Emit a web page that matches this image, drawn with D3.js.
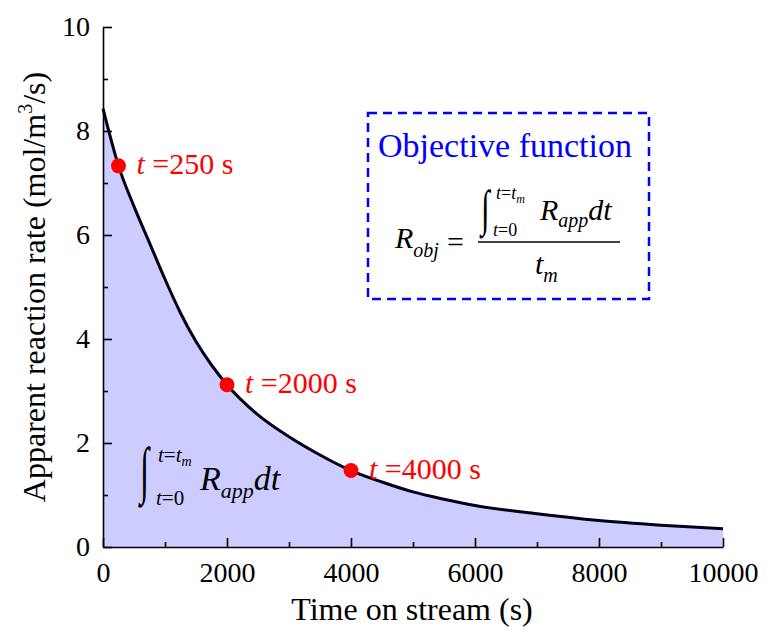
<!DOCTYPE html>
<html>
<head>
<meta charset="utf-8">
<script src="https://cdn.jsdelivr.net/npm/d3@7"></script>
</head>
<body style="margin:0;background:#fff">
<div id="chart"></div>
<script>
// apparent reaction rate vs time on stream
var times = [0, 250, 500, 750, 1000, 1250, 1500, 1750, 2000, 2500, 3000, 3500, 4000, 4500, 5000, 5500, 6000, 7000, 8000, 9000, 10000]
var rates = [8.43, 7.33, 6.55, 5.85, 5.15, 4.50, 3.95, 3.50, 3.12, 2.54, 2.12, 1.77, 1.47, 1.25, 1.06, 0.92, 0.80, 0.64, 0.51, 0.42, 0.35]

// highlighted points
var markTimes = [250, 2000, 4000]
var markRates = [7.33, 3.12, 1.47]
var markLabels = ['=250 s', '=2000 s', '=4000 s']

var xTicks = [0, 2000, 4000, 6000, 8000, 10000]
var xMinor = [1000, 3000, 5000, 7000, 9000]
var yTicks = [0, 2, 4, 6, 8, 10]
var yMinor = [1, 3, 5, 7, 9]

var chart_width = 768
var chart_height = 634
var font = '"Liberation Serif", "Times New Roman", serif'

var svg = d3.select('#chart')
    .append('svg')
    .attr('width', chart_width)
    .attr('height', chart_height)

var x = d3.scaleLinear().domain([0, 10000]).range([103, 723])
var y = d3.scaleLinear().domain([0, 10]).range([547, 27])

var data = times.map(function(t, i){ return [t, rates[i]] })

// shaded area under the curve
var area = d3.area()
    .x(function(d){ return x(d[0]) })
    .y0(y(0))
    .y1(function(d){ return y(d[1]) })
    .curve(d3.curveMonotoneX)

svg.append('path')
    .datum(data)
    .attr('d', area)
    .style('fill', '#ccccff')

// axes, ticks pointing inward
svg.append('g')
    .attr('transform', 'translate(0,' + y(0) + ')')
    .call(d3.axisBottom(x).tickValues(xTicks).tickFormat(d3.format('d'))
        .tickSize(-9).tickSizeOuter(0).tickPadding(15))
svg.append('g')
    .attr('transform', 'translate(0,' + y(0) + ')')
    .call(d3.axisBottom(x).tickValues(xMinor).tickSize(-5).tickFormat(''))
    .select('.domain').remove()

svg.append('g')
    .attr('transform', 'translate(' + x(0) + ',0)')
    .call(d3.axisLeft(y).tickValues(yTicks).tickFormat(d3.format('d'))
        .tickSize(-9).tickSizeOuter(0).tickPadding(13))
svg.append('g')
    .attr('transform', 'translate(' + x(0) + ',0)')
    .call(d3.axisLeft(y).tickValues(yMinor).tickSize(-5).tickFormat(''))
    .select('.domain').remove()

svg.selectAll('.domain').attr('stroke', '#000').attr('stroke-width', 1.6)
svg.selectAll('.tick line').attr('stroke', '#000').attr('stroke-width', 1.6)
svg.selectAll('.tick text')
    .attr('font-size', 28)
    .attr('fill', '#000')

// axis titles
svg.append('text')
    .attr('x', 412)
    .attr('y', 620)
    .attr('text-anchor', 'middle')
    .attr('font-size', 32)
    .text('Time on stream (s)')

var yTitle = svg.append('text')
    .attr('transform', 'translate(45,287) rotate(-90)')
    .attr('text-anchor', 'middle')
    .attr('font-size', 32)
yTitle.append('tspan').text('Apparent reaction rate (mol/m')
yTitle.append('tspan').attr('font-size', 20).attr('dy', -13).text('3')
yTitle.append('tspan').attr('dy', 13).text('/s)')

// rate curve
var line = d3.line()
    .x(function(d){ return x(d[0]) })
    .y(function(d){ return y(d[1]) })
    .curve(d3.curveMonotoneX)

svg.append('path')
    .datum(data)
    .attr('d', line)
    .style('fill', 'none')
    .style('stroke', '#000018')
    .style('stroke-width', 3)

// red points and their labels
svg.selectAll('circle.mark')
    .data(markTimes)
    .enter()
    .append('circle')
    .attr('class', 'mark')
    .attr('cx', function(d){ return x(d) })
    .attr('cy', function(d, i){ return y(markRates[i]) })
    .attr('r', 7.5)
    .style('fill', '#ff0000')

var labels = svg.selectAll('text.mark')
    .data(markTimes)
    .enter()
    .append('text')
    .attr('class', 'mark')
    .attr('x', function(d){ return x(d) + 18 })
    .attr('y', function(d, i){ return y(markRates[i]) + 8 })
    .attr('font-size', 30)
    .attr('fill', '#ff0000')
labels.append('tspan').attr('font-style', 'italic').text('t ')
labels.append('tspan').text(function(d, i){ return markLabels[i] })

// integral sign stretched vertically
function integral(g, px, base, size, sy){
    g.append('text')
        .attr('transform', 'translate(' + px + ',' + base + ') scale(1,' + sy + ')')
        .attr('font-size', size)
        .attr('font-style', 'normal')
        .text('\u222B')
}

// integral inside the shaded area
var g1 = svg.append('g').attr('font-style', 'italic')
integral(g1, 140, 491, 33, 1.9)
var up1 = g1.append('text').attr('x', 158).attr('y', 462).attr('font-size', 21)
up1.append('tspan').text('t')
up1.append('tspan').attr('font-style', 'normal').text('=')
up1.append('tspan').text('t')
up1.append('tspan').attr('font-size', 14).attr('dy', 4).text('m')
var lo1 = g1.append('text').attr('x', 156).attr('y', 505).attr('font-size', 21)
lo1.append('tspan').text('t')
lo1.append('tspan').attr('font-style', 'normal').text('=0')
var r1 = g1.append('text').attr('x', 200).attr('y', 490).attr('font-size', 34)
r1.append('tspan').text('R')
r1.append('tspan').attr('font-size', 22).attr('dy', 8).text('app')
r1.append('tspan').attr('dy', -8).text('dt')

// objective function box
svg.append('rect')
    .attr('x', 368)
    .attr('y', 113)
    .attr('width', 281)
    .attr('height', 186)
    .style('fill', 'none')
    .style('stroke', '#0000ff')
    .style('stroke-width', 2.5)
    .style('stroke-dasharray', '9,6')

svg.append('text')
    .attr('x', 378)
    .attr('y', 157)
    .attr('font-size', 34)
    .attr('fill', '#0000ff')
    .text('Objective function')

var g2 = svg.append('g').attr('font-style', 'italic')
var lhs = g2.append('text').attr('x', 395).attr('y', 248).attr('font-size', 30)
lhs.append('tspan').text('R')
lhs.append('tspan').attr('font-size', 20).attr('dy', 9).text('obj')
g2.append('text').attr('x', 447).attr('y', 252).attr('font-size', 30).attr('font-style', 'normal').text('=')
g2.append('line')
    .attr('x1', 478).attr('x2', 620)
    .attr('y1', 242).attr('y2', 242)
    .style('stroke', '#000')
    .style('stroke-width', 1.5)
integral(g2, 481, 225, 31, 1.62)
var up2 = g2.append('text').attr('x', 496).attr('y', 199).attr('font-size', 18)
up2.append('tspan').text('t')
up2.append('tspan').attr('font-style', 'normal').text('=')
up2.append('tspan').text('t')
up2.append('tspan').attr('font-size', 12).attr('dy', 4).text('m')
var lo2 = g2.append('text').attr('x', 493).attr('y', 236).attr('font-size', 18)
lo2.append('tspan').text('t')
lo2.append('tspan').attr('font-style', 'normal').text('=0')
var num = g2.append('text').attr('x', 540).attr('y', 220).attr('font-size', 30)
num.append('tspan').text('R')
num.append('tspan').attr('font-size', 20).attr('dy', 7).text('app')
num.append('tspan').attr('dy', -7).text('dt')
var den = g2.append('text').attr('x', 535).attr('y', 274).attr('font-size', 30)
den.append('tspan').text('t')
den.append('tspan').attr('font-size', 20).attr('dy', 8).text('m')

// serif everywhere, set inline so the axis defaults do not win
svg.selectAll('text').style('font-family', font)
</script>
</body>
</html>
